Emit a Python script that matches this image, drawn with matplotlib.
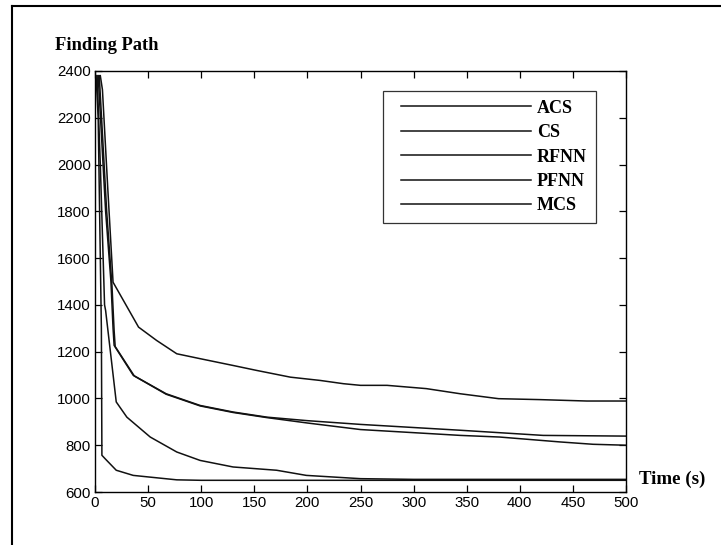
import numpy as np
import matplotlib
matplotlib.use("Agg")
import matplotlib.pyplot as plt
from matplotlib.lines import Line2D
from matplotlib.legend_handler import HandlerLine2D

# values
series_names = ["ACS", "CS", "RFNN", "PFNN", "MCS"]

acs_t = [5, 7, 12, 17, 41, 58, 77, 99, 130, 152, 184, 212, 234, 250, 275, 312, 344, 380, 419, 463, 500]
acs_v = [2380, 2320, 1900, 1497, 1305, 1248, 1191, 1170, 1141, 1120, 1091, 1077, 1063, 1056, 1056, 1042, 1020, 999, 995, 989, 989]

cs_t = [3, 10, 15, 17, 18, 36, 67, 99, 130, 162, 200, 250, 344, 422, 500]
cs_v = [2380, 1800, 1500, 1300, 1227, 1099, 1020, 970, 942, 920, 905, 889, 864, 842, 839]

rfnn_t = [4, 11, 16, 18, 19, 37, 67, 99, 130, 162, 200, 250, 344, 381, 438, 469, 500]
rfnn_v = [2380, 1800, 1480, 1290, 1222, 1096, 1018, 968, 940, 918, 895, 867, 842, 835, 814, 804, 800]

pfnn_t = [2, 5, 9, 10, 20, 30, 52, 77, 99, 130, 171, 199, 250, 300, 500]
pfnn_v = [2380, 2000, 1400, 1376, 985, 920, 835, 771, 735, 707, 693, 671, 657, 654, 654]

mcs_t = [1, 3, 6, 6.5, 10, 20, 36, 51, 77, 100, 500]
mcs_v = [2380, 2200, 1300, 757, 740, 693, 671, 664, 652, 650, 650]

x_ticks = np.arange(0, 501, 50)
y_ticks = np.arange(600, 2401, 200)

fig = plt.figure(figsize=(7.21, 5.45), dpi=100)
ax = fig.add_axes([95 / 721, 1 - 492 / 545, 531 / 721, 421 / 545])

curves = [(acs_t, acs_v), (cs_t, cs_v), (rfnn_t, rfnn_v), (pfnn_t, pfnn_v), (mcs_t, mcs_v)]
for (t, v), name in zip(curves, series_names):
    ax.plot(t, v, color="#111111", linewidth=1.1, label=name)

ax.set_xlim(0, 500)
ax.set_ylim(600, 2400)
ax.set_xticks(x_ticks)
ax.set_yticks(y_ticks)
ax.tick_params(direction="in", top=True, right=True, length=5, width=0.9,
               labelsize=10.8, pad=3)
for lbl in ax.get_xticklabels() + ax.get_yticklabels():
    lbl.set_fontfamily("Liberation Sans")
for sp in ax.spines.values():
    sp.set_linewidth(1.0)

# xpad leaves the wider blank in front of the legend lines
leg = ax.legend(loc="upper left", bbox_to_anchor=(0.542, 0.953), frameon=True,
                fancybox=False, handlelength=7.7, handletextpad=0.33,
                labelspacing=0.41, borderpad=0.5, borderaxespad=0,
                handler_map={Line2D: HandlerLine2D(xpad=0.5)},
                prop={"family": "Liberation Serif", "weight": "bold", "size": 13})
leg.get_frame().set_edgecolor("black")
leg.get_frame().set_linewidth(0.9)

fig.text(55 / 721, 1 - 46 / 545, "Finding Path", family="Liberation Serif",
         weight="bold", fontsize=13.3, ha="left", va="center")
fig.text(639 / 721, 1 - 479 / 545, "Time (s)", family="Liberation Serif",
         weight="bold", fontsize=13.6, ha="left", va="center")

# outer frame of the scanned figure
fig.add_artist(Line2D([12 / 721, 12 / 721], [0, 1 - 6 / 545], color="black", linewidth=1.5))
fig.add_artist(Line2D([12 / 721, 1], [1 - 6 / 545, 1 - 6 / 545], color="black", linewidth=1.5))

fig.savefig("out.png", dpi=100)
